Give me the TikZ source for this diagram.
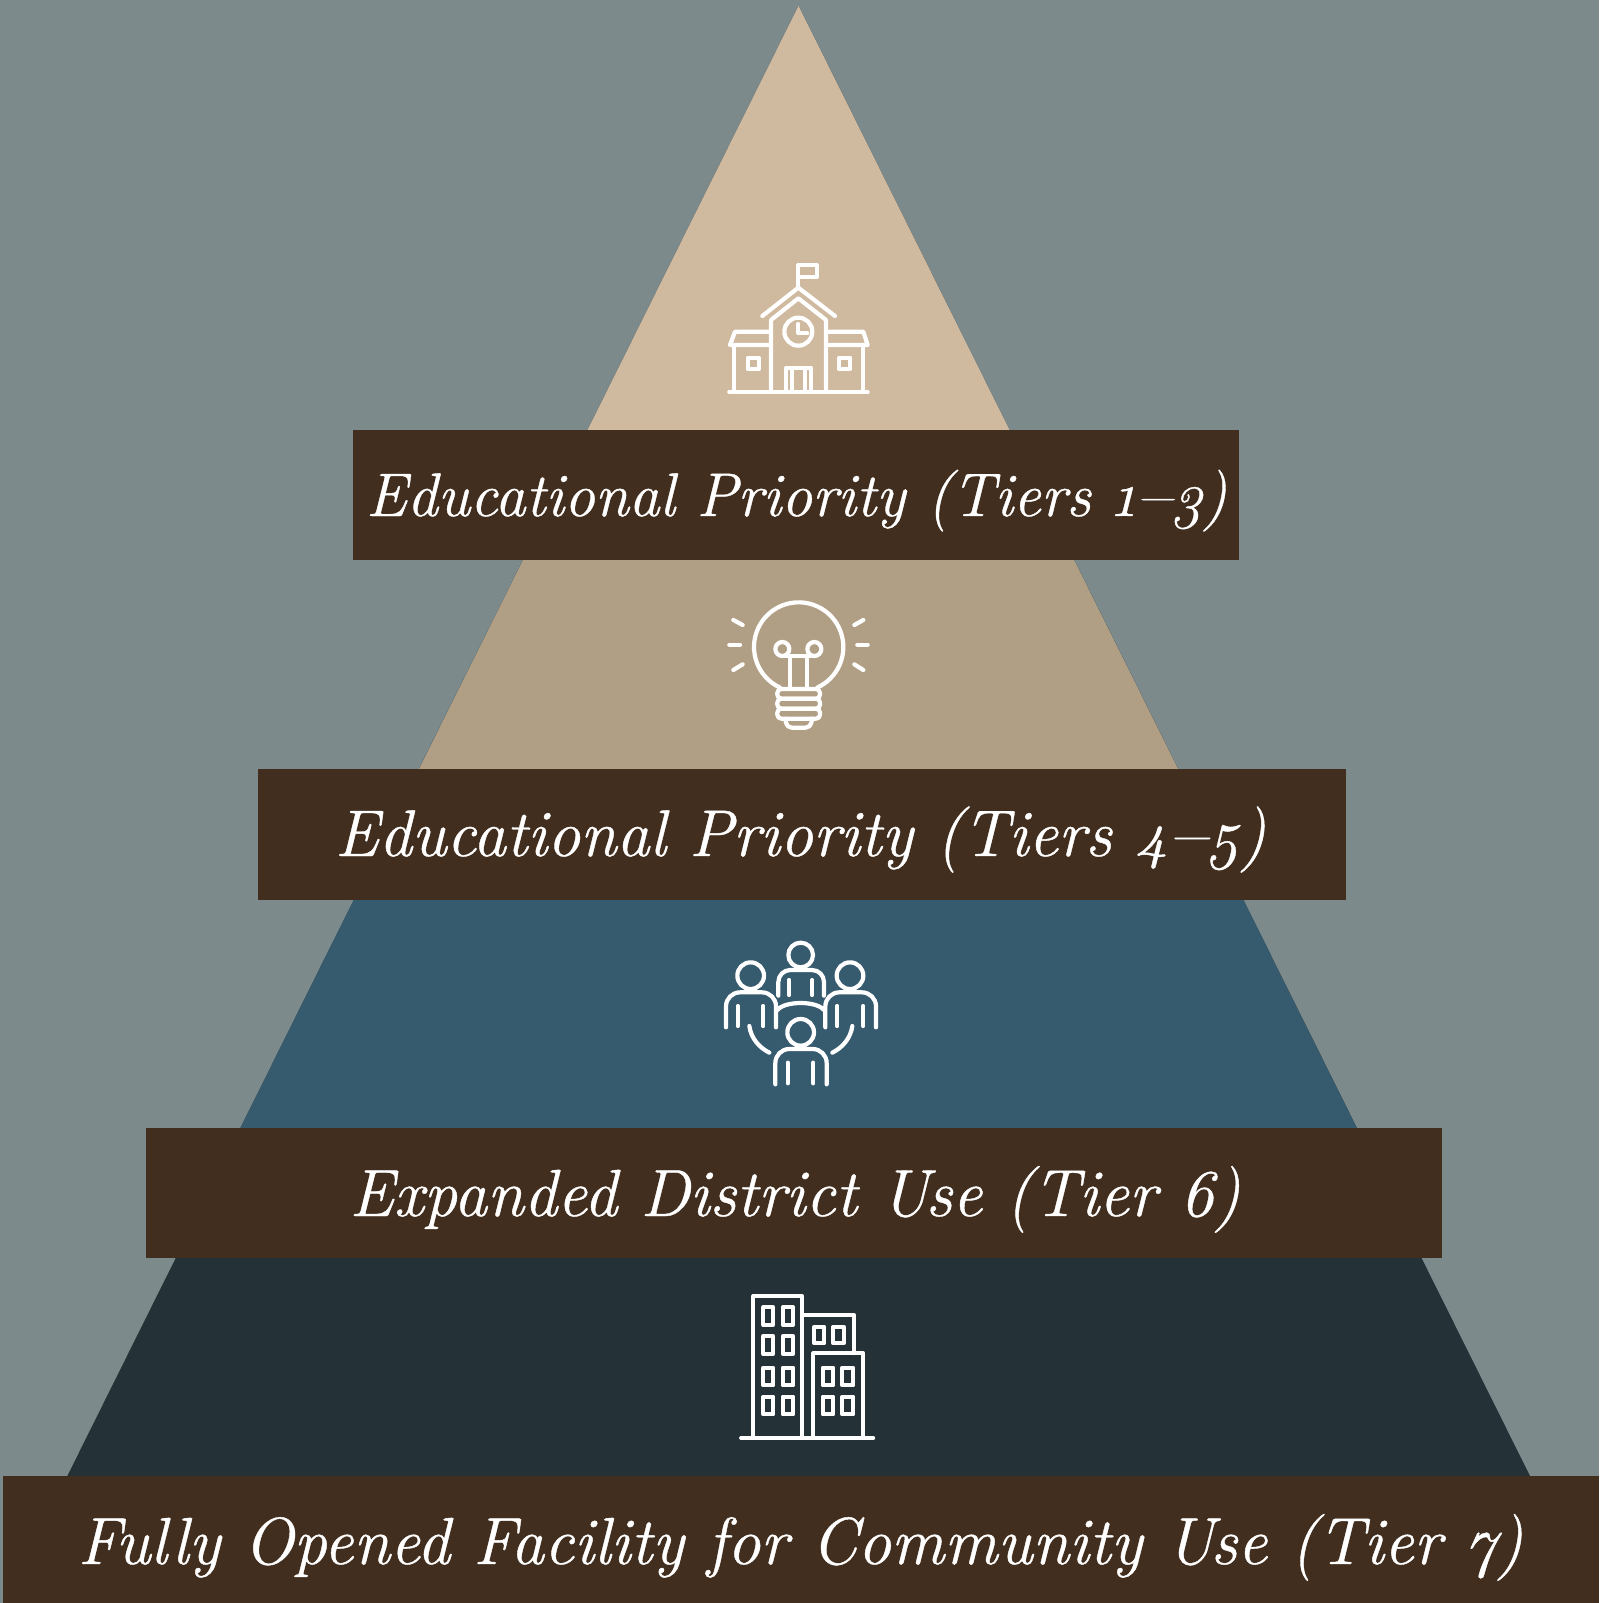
\documentclass[tikz,border=0pt]{standalone}
\usepackage{fontspec}
\setmainfont{Latin Modern Roman}[Numbers=OldStyle,ItalicFeatures={FakeBold=0.6}]
\usepackage{graphicx}
\usetikzlibrary{calc}
\definecolor{bgc}{HTML}{7C8A8B}
\definecolor{tone}{HTML}{CFB99F}
\definecolor{ttwo}{HTML}{B19F85}
\definecolor{tthree}{HTML}{365A6E}
\definecolor{tfour}{HTML}{243237}
\definecolor{barc}{HTML}{412E1F}
\tikzset{
  barbox/.style={fill=barc,draw=none},
  lbl/.style={text=white,anchor=base,inner sep=0pt,outer sep=0pt,font=\fontsize{66}{70}\itshape},
  ico/.style={draw=white,line width=4.2pt,line cap=round,line join=round},
}
\newcommand{\fitw}[2]{\resizebox{#1pt}{!}{#2}}
\newcommand{\wdash}{\scalebox{1.2}[1]{–}}
\begin{document}
\begin{tikzpicture}[x=1pt,y=1pt,yscale=-1]
\useasboundingbox (0,0) rectangle (1599,1603);
\fill[bgc] (0,0) rectangle (1599,1603);
% pyramid
\coordinate (apex) at (798.5,6);
\coordinate (bl) at (67.3,1476);
\coordinate (br) at (1530,1476);
\fill[tfour] (apex) -- (bl) -- (br) -- cycle;
\fill[tthree] (apex) -- ($(apex)!0.807!(bl)$) -- ($(apex)!0.807!(br)$) -- cycle;
\fill[ttwo] (apex) -- ($(apex)!0.563!(bl)$) -- ($(apex)!0.563!(br)$) -- cycle;
\fill[tone] (apex) -- ($(apex)!0.333!(bl)$) -- ($(apex)!0.333!(br)$) -- cycle;
% bars
\fill[barbox] (353,429.5) rectangle (1239,560);
\fill[barbox] (258,769) rectangle (1345.5,899.5);
\fill[barbox] (146,1128) rectangle (1442,1258);
\fill[barbox] (3,1476) rectangle (1599,1603);
% labels
\node[lbl] (t1) at (796.5,516) {\fitw{861}{Educational Priority (Tiers 1\wdash 3)}};
\node[lbl] (t2) at (800.5,856) {\fitw{931}{Educational Priority (Tiers 4\wdash 5)}};
\node[lbl] (t3) at (795,1216) {\fitw{891}{Expanded District Use (Tier 6)}};
\node[lbl] (t4) at (800.5,1564) {\fitw{1445}{Fully Opened Facility for Community Use (Tier 7)}};
% school
\begin{scope}[shift={(700,240)},scale=1/3,ico]
\draw (295,140)--(295,75)--(350,75)--(350,112)--(295,112);
\draw (187,228)--(295,143)--(405,228);
\draw (213,455)--(213,240)--(295,175)--(378,240)--(378,455);
\draw (295,275) circle (42);
\draw (295,252)--(295,280)--(322,280);
\draw (213,275)--(105,275)--(90,315)--(213,315);
\draw (103,315)--(103,455);
\draw (378,275)--(490,275)--(503,315)--(378,315);
\draw (490,315)--(490,455);
\draw (88,456)--(503,456);
\draw (143,353) rectangle (177,387);
\draw (417,353) rectangle (451,387);
\draw (259,455)--(259,383)--(333,383)--(333,455);
\draw (277,385)--(277,455);
\draw (315,385)--(315,455);
\end{scope}
% bulb
\begin{scope}[shift={(700,580)},scale=1/3,ico]
\draw (239.4,322.4) arc[start angle=115,end angle=425,radius=134];
\draw (247,207) circle (21);
\draw (343,207) circle (21);
\draw (247,228)--(343,228);
\draw (270,228)--(270,325);
\draw (320,228)--(320,325);
\draw[rounded corners=4pt] (232,327) rectangle (360,356);
\draw[rounded corners=4pt] (232,356) rectangle (360,386);
\draw[rounded corners=4pt] (232,386) rectangle (360,416);
\draw[rounded corners=5pt] (256,416)--(260,443)--(332,443)--(336,416);
\draw (100,120)--(128,135);
\draw (88,194)--(120,194);
\draw (100,270)--(128,253);
\draw (490,120)--(463,135);
\draw (472,194)--(503,194);
\draw (463,253)--(490,270);
\end{scope}
% people
\begin{scope}[shift={(700,925)},scale=1/3,ico]
\draw (302,90) circle (37);
\draw[rounded corners=12pt] (235,212)--(235,135)--(372,135)--(372,212);
\draw (267,165)--(267,210);
\draw (337,165)--(337,210);
\draw (152,152) circle (40);
\draw[rounded corners=14pt] (78,307)--(78,202)--(228,202)--(228,307);
\draw (113,243)--(113,303);
\draw (190,243)--(190,303);
\draw (450,152) circle (40);
\draw[rounded corners=14pt] (376,307)--(376,202)--(528,202)--(528,307);
\draw (412,243)--(412,303);
\draw (490,243)--(490,303);
\draw (302,322) circle (40);
\draw[rounded corners=14pt] (226,478)--(226,372)--(380,372)--(380,478);
\draw (263,413)--(263,475);
\draw (340,413)--(340,475);
\draw (232,255) .. controls (255,227) and (349,227) .. (372,255);
\draw (148,303) .. controls (153,340) and (178,368) .. (208,383);
\draw (457,303) .. controls (452,340) and (427,368) .. (397,383);
\end{scope}
% buildings
\begin{scope}[shift={(720,1280)},scale=1/3,ico,line width=3.8pt]
\draw (63,474)--(460,474);
\draw (100,474)--(100,48)--(247,48)--(247,474);
\draw (247,105)--(403,105)--(403,220);
\draw (280,474)--(280,220)--(430,220)--(430,474);
\foreach \ya/\yb in {82/135,168/222,263/316,350/403}{
  \draw (130,\ya) rectangle (160,\yb);
  \draw (188,\ya) rectangle (220,\yb);
}
\draw (283,140) rectangle (313,190);
\draw (340,140) rectangle (372,190);
\foreach \ya/\yb in {263/316,350/403}{
  \draw (308,\ya) rectangle (340,\yb);
  \draw (367,\ya) rectangle (400,\yb);
}
\end{scope}
\end{tikzpicture}
\end{document}
